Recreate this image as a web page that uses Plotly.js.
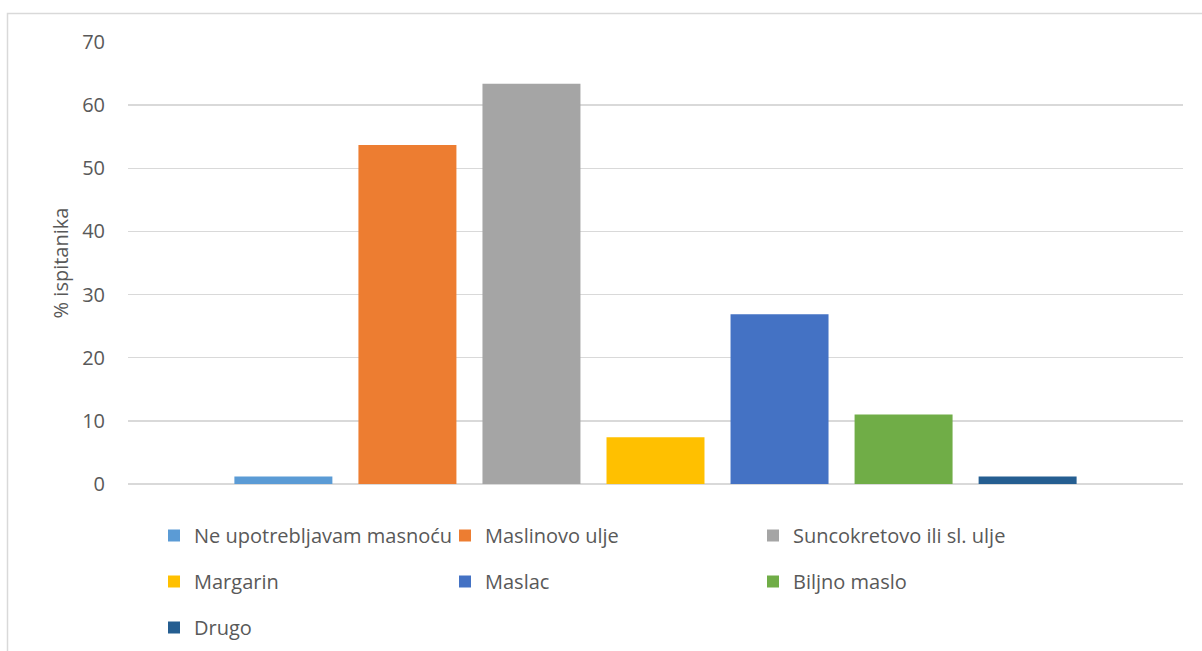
<!DOCTYPE html>
<html><head><meta charset="utf-8">
<script src="https://cdn.plot.ly/plotly-3.0.1.min.js"></script>
<style>html,body{margin:0;padding:0;background:#fff;}#chart{width:1202px;height:651px;}</style>
</head><body><div id="chart"></div>
<script>
const seriesNames = ["Ne upotrebljavam masnoću","Maslinovo ulje","Suncokretovo ili sl. ulje","Margarin","Maslac","Biljno maslo","Drugo"];
const seriesValues = [1.2, 53.7, 63.4, 7.4, 26.9, 11.0, 1.2];
const seriesColors = ["#5B9BD5","#ED7D31","#A5A5A5","#FFC000","#4472C4","#70AD47","#255E91"];
const legendColumn = ["legend","legend2","legend3","legend","legend2","legend3","legend"];
const yTicks = [0,10,20,30,40,50,60,70];

const W=1202,H=651, L=128, R=19, T=42, B=167;
const pw=W-L-R, ph=H-T-B;
const px = x => (x-L)/pw;
const py = y => (H-B-y)/ph;

const font = {family:"Open Sans, Noto Sans, sans-serif", size:20, color:"#595959"};

const traces = seriesNames.map((n,i)=>({
  type:"bar", name:n, x:[""], y:[seriesValues[i]],
  marker:{color:seriesColors[i], line:{width:0}},
  legend:legendColumn[i], legendgroup:"g"+i,
  hoverinfo:"name+y"
}));

const legBase = {orientation:"v", font:font, bgcolor:"rgba(0,0,0,0)", borderwidth:0,
  tracegroupgap:17, xanchor:"left", yanchor:"top", y:py(516)};

const layout = {
  width:W, height:H,
  margin:{l:L,r:R,t:T,b:B,autoexpand:false},
  paper_bgcolor:"#fff", plot_bgcolor:"#fff",
  font:font,
  barmode:"group", bargap:0.177, bargroupgap:0.21,
  showlegend:true,
  legend:Object.assign({}, legBase, {x:px(154)}),
  legend2:Object.assign({}, legBase, {x:px(445)}),
  legend3:Object.assign({}, legBase, {x:px(753)}),
  xaxis:{type:"category", showticklabels:false, showgrid:false, zeroline:false, showline:false, ticks:"", fixedrange:true},
  yaxis:{range:[0,70], tickvals:yTicks, ticktext:yTicks.map(String), showgrid:true, gridcolor:"#d9d9d9", gridwidth:1.5,
    zeroline:true, zerolinecolor:"#d9d9d9", zerolinewidth:1.5, showline:false, ticks:"", ticklabelstandoff:22,
    tickfont:font, title:{text:"% ispitanika", font:font, standoff:8}, fixedrange:true, automargin:false},
  shapes:[{type:"rect", xref:"paper", yref:"paper", x0:px(7.5), x1:px(1215), y0:py(670), y1:py(13.5),
    line:{color:"#d9d9d9", width:1.5}, fillcolor:"rgba(0,0,0,0)", layer:"below"}]
};
Plotly.newPlot("chart", traces, layout, {displayModeBar:false, staticPlot:true});
</script></body></html>
